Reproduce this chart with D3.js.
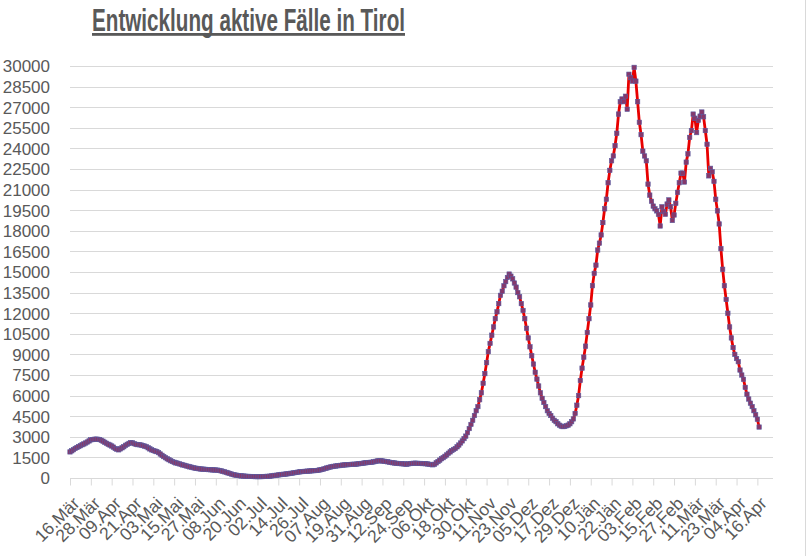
<!DOCTYPE html>
<html>
<head>
<meta charset="utf-8">
<script src="https://cdn.jsdelivr.net/npm/d3@7"></script>
<style>
  html, body { margin: 0; padding: 0; background: #ffffff; }
  svg { display: block; }
</style>
</head>
<body>
<svg id="chart" width="809" height="556"></svg>
<script>
// ---- data ----
const title = "Entwicklung aktive Fälle in Tirol";

const xTickLabels = ["16.Mär","28.Mär","09.Apr","21.Apr","03.Mai","15.Mai","27.Mai","08.Jun","20.Jun","02.Jul",
  "14.Jul","26.Jul","07.Aug","19.Aug","31.Aug","12.Sep","24.Sep","06.Okt","18.Okt","30.Okt",
  "11.Nov","23.Nov","05.Dez","17.Dez","29.Dez","10.Jän","22.Jän","03.Feb","15.Feb","27.Feb",
  "11.Mär","23.Mär","04.Apr","16.Apr"];
const xTickEvery = 12; // days between labels

const yTicks = [0,1500,3000,4500,6000,7500,9000,10500,12000,13500,15000,16500,18000,19500,21000,22500,24000,25500,27000,28500,30000];

// daily active cases, day 0 = 16.Mär
const activeCases = [
  1900,1980,2060,2150,2220,2290,2350,2420,2480,2550,2620,2700,2780,2800,2820,
  2830,2820,2800,2750,2680,2600,2530,2460,2400,2330,2250,2150,2100,2050,2120,
  2200,2280,2380,2450,2520,2580,2560,2500,2450,2430,2420,2400,2360,2320,2280,
  2200,2120,2050,2000,1960,1920,1850,1750,1650,1560,1480,1400,1330,1260,1200,
  1150,1100,1070,1030,990,950,920,880,850,810,780,750,720,700,680,
  660,650,640,630,620,610,600,590,585,580,570,550,520,480,450,
  410,370,330,290,250,220,200,180,160,150,140,130,120,115,110,
  110,105,100,100,100,100,105,110,115,120,130,150,170,190,200,
  220,240,260,270,280,300,320,340,350,380,400,420,440,460,470,
  480,490,500,510,520,530,540,545,560,590,620,650,690,730,770,
  800,830,850,870,890,900,920,940,950,960,970,980,990,1000,1000,
  1010,1030,1050,1060,1080,1100,1120,1130,1140,1150,1180,1210,1240,1260,1250,
  1240,1220,1200,1180,1150,1130,1110,1090,1070,1060,1050,1040,1030,1020,1000,
  1030,1050,1060,1070,1080,1070,1060,1060,1050,1050,1040,1020,1000,980,960,
  1000,1100,1200,1300,1400,1480,1580,1680,1800,1900,2000,2080,2150,2270,2400,
  2550,2700,2870,3050,3300,
  3600,3900,4200,4550,4900,5200,5700,6200,6900,7600,
  8400,9200,9800,10400,11000,11600,12100,12700,13300,13600,
  14000,14300,14600,14850,14700,14500,14200,13900,13500,13200,
  12700,12200,11600,10900,10200,9550,8900,8300,7700,7200,
  6700,6200,5800,5500,5200,4900,4700,4550,4350,4200,
  4100,3950,3850,3780,3740,3750,3800,3850,3950,4100,
  4300,4700,5300,6000,7100,8000,8800,9600,10600,11600,
  12600,14000,14900,15500,16600,17100,17700,18600,19600,20300,
  21500,22400,23100,23450,24200,25100,26500,27400,27600,27400,
  27800,26850,29400,29150,28900,29900,28900,27400,25900,25000,
  23800,23450,23100,21400,20600,20150,19800,19600,19450,19200,
  18350,19750,19400,19200,19950,20250,19750,18750,19150,20000,
  20800,21500,22200,22200,21550,23000,23600,24800,25300,26500,
  26200,25150,26050,26350,26650,26300,25300,24300,22000,22550,
  22300,21600,20300,19450,18500,16700,15200,14000,13000,12000,
  11000,10200,9500,9000,8700,8470,7860,7500,7190,6600,
  6100,5750,5450,5200,4900,4600,4280,3710
];

// ---- drawing ----
const svg = d3.select("#chart");
const gray = "#595959";
const gridColor = "#d9d9d9";
const labelFont = "'Liberation Sans',Arial,sans-serif";

const x = d3.scaleLinear().domain([0, 405]).range([70, 773]);
const y = d3.scaleLinear().domain([0, 30000]).range([478, 66]);

// outer frame line on the right
svg.append("line").attr("x1", 805.5).attr("x2", 805.5).attr("y1", 0).attr("y2", 556)
  .attr("stroke", gridColor).attr("stroke-width", 1);

// title
svg.append("text")
  .attr("x", 92).attr("y", 31)
  .attr("font-family", "'Liberation Sans Narrow','Arial Narrow','Liberation Sans',Arial,sans-serif")
  .attr("font-weight", "bold").attr("font-size", 31)
  .attr("fill", gray)
  .attr("textLength", 313).attr("lengthAdjust", "spacingAndGlyphs")
  .text(title);
svg.append("rect").attr("x", 92).attr("y", 33).attr("width", 313).attr("height", 2.8).attr("fill", gray);

// gridlines
svg.append("g").selectAll("line").data(yTicks.filter(d => d > 0)).join("line")
  .attr("x1", x(0)).attr("x2", x(405))
  .attr("y1", d => Math.round(y(d)) + 0.5).attr("y2", d => Math.round(y(d)) + 0.5)
  .attr("stroke", gridColor).attr("stroke-width", 1);

// y axis labels
const yAxis = d3.axisLeft(y).tickValues(yTicks).tickSize(0).tickPadding(0).tickFormat(d3.format("d"));
const gy = svg.append("g").attr("transform", "translate(50,0)").call(yAxis);
gy.select(".domain").remove();
gy.selectAll("text").attr("font-family", labelFont)
  .attr("font-size", 17).attr("fill", gray).attr("dy", "0.35em").attr("x", 0);

// x axis
const tickIdx = xTickLabels.map((_, i) => i * xTickEvery);
const xAxis = d3.axisBottom(x).tickValues(tickIdx).tickSize(7).tickPadding(0)
  .tickFormat((d, i) => xTickLabels[i]);
const gx = svg.append("g").attr("transform", "translate(0,478.5)").call(xAxis);
gx.select(".domain").attr("d", `M${x(0)},0H${x(405)}`).attr("stroke", gridColor);
gx.selectAll(".tick line").attr("stroke", gridColor);
gx.selectAll(".tick text")
  .attr("font-family", labelFont)
  .attr("font-size", 17.5).attr("fill", gray)
  .attr("text-anchor", "end")
  .attr("dy", null).attr("y", null)
  .attr("transform", "translate(10,26) rotate(-45)");

// line
const line = d3.line().x((d, i) => x(i)).y(d => y(d));
svg.append("path").datum(activeCases)
  .attr("d", line).attr("fill", "none")
  .attr("stroke", "#e80000").attr("stroke-width", 2.8).attr("stroke-linejoin", "round");

// markers
svg.append("g").selectAll("rect").data(activeCases).join("rect")
  .attr("x", (d, i) => x(i) - 2.2).attr("y", d => y(d) - 2.2)
  .attr("width", 4.4).attr("height", 4.4)
  .attr("fill", "#86386a").attr("stroke", "#5a5aa0").attr("stroke-width", 0.6);
</script>
</body>
</html>
